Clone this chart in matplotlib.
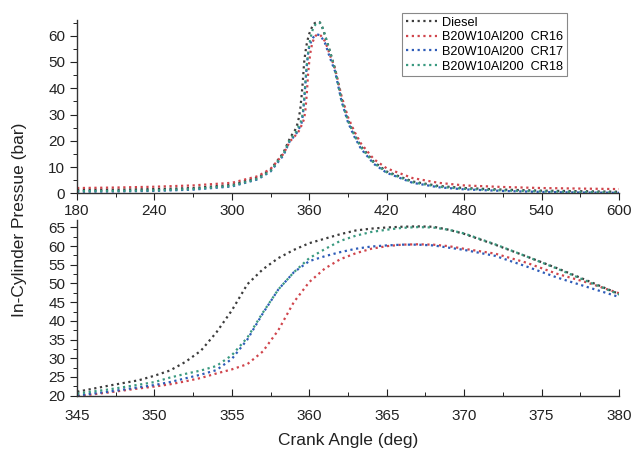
import matplotlib
matplotlib.use("Agg")
import matplotlib.pyplot as plt
from matplotlib.ticker import MultipleLocator

plt.rcParams['font.family'] = ['Liberation Sans', 'DejaVu Sans']

# crank angle grid (deg)
angle = [180, 210, 240, 270, 300, 320, 330, 340, 345, 347, 349, 350, 351, 352, 353, 354,
         355, 356, 357, 358, 359, 360, 361, 362, 363, 364, 365, 366, 367, 368, 369, 370,
         372, 374, 376, 378, 380, 385, 390, 395, 400, 410, 420, 440, 460, 480, 510, 540,
         570, 600]

# in-cylinder pressure (bar)
diesel = [1.3, 1.4, 1.6, 2.0, 3.2, 6.0, 9.0, 15.5, 21.0, 22.6, 24.1, 25.3, 26.7, 29.0, 32.0, 36.9,
          42.8, 49.8, 53.8, 56.8, 59.0, 60.8, 62.0, 63.2, 64.2, 64.7, 65.0, 65.2, 65.3, 65.2, 64.4, 63.3,
          60.4, 57.3, 54.1, 50.7, 47.2, 36.0, 28.0, 22.5, 18.0, 12.0, 8.3, 4.5, 2.8, 2.0, 1.4, 1.0,
          0.8, 0.6]
cr16 = [2.0, 2.2, 2.5, 3.0, 4.0, 6.5, 9.3, 15.0, 19.8, 20.8, 21.9, 22.4, 23.0, 23.8, 24.7, 25.9,
        27.0, 28.4, 31.8, 37.5, 45.0, 50.4, 54.0, 56.5, 58.1, 59.3, 60.0, 60.4, 60.5, 60.4, 60.0, 59.3,
        58.0, 55.6, 52.6, 50.2, 47.4, 37.0, 29.0, 23.5, 19.0, 13.0, 9.5, 5.8, 4.0, 3.0, 2.4, 2.0,
        1.8, 1.6]
cr17 = [0.6, 0.7, 0.9, 1.4, 2.6, 5.3, 8.3, 14.5, 20.0, 21.0, 22.2, 22.8, 23.6, 24.6, 25.6, 26.8,
        29.8, 35.0, 42.0, 48.4, 53.0, 56.0, 57.3, 58.4, 59.3, 59.9, 60.2, 60.4, 60.4, 60.2, 59.6, 59.0,
        57.4, 54.6, 51.6, 49.0, 46.4, 35.0, 27.0, 21.5, 17.0, 11.2, 7.8, 4.0, 2.3, 1.5, 0.9, 0.5,
        0.3, 0.2]
cr18 = [0.8, 0.9, 1.1, 1.6, 2.8, 5.5, 8.5, 15.0, 20.5, 21.6, 22.9, 23.6, 24.8, 25.8, 26.7, 27.9,
        30.8, 35.5, 42.2, 48.4, 53.0, 56.8, 59.2, 61.4, 62.8, 63.8, 64.4, 64.9, 65.1, 65.0, 64.4, 63.4,
        60.5, 57.3, 54.0, 50.5, 47.1, 35.5, 27.5, 22.0, 17.5, 11.5, 8.0, 4.2, 2.5, 1.7, 1.1, 0.7,
        0.5, 0.3]

labels = ['Diesel', 'B20W10Al200  CR16', 'B20W10Al200  CR17', 'B20W10Al200  CR18']
colors = ['#3c3c3c', '#d0454c', '#2e5cb8', '#3a9a80']
series = [diesel, cr16, cr17, cr18]

fig = plt.figure(figsize=(6.34, 4.53), dpi=100)
ax1 = fig.add_axes([0.1215, 0.5733, 0.8548, 0.3826])
ax2 = fig.add_axes([0.1215, 0.1269, 0.8548, 0.3874])

dash = (0, (1, 1.6))
for ax in (ax1, ax2):
    for s, c, lab in zip(series, colors, labels):
        ax.plot(angle, s, color=c, linestyle=dash, linewidth=1.6, label=lab)
    for sp in ('top', 'right'):
        ax.spines[sp].set_visible(False)
    for sp in ('left', 'bottom'):
        ax.spines[sp].set_color('#333333')
        ax.spines[sp].set_linewidth(1.0)
    ax.tick_params(labelsize=11, colors='#222222')

# top panel: full cycle
ax1.set_xlim(180, 600)
ax1.set_ylim(0, 66)
ax1.xaxis.set_major_locator(MultipleLocator(60))
ax1.xaxis.set_minor_locator(MultipleLocator(30))
ax1.yaxis.set_major_locator(MultipleLocator(10))
ax1.yaxis.set_minor_locator(MultipleLocator(5))
ax1.tick_params(axis='x', which='both', direction='out')
ax1.tick_params(axis='x', which='major', length=5, pad=3)
ax1.tick_params(axis='x', which='minor', length=3)
ax1.tick_params(axis='y', which='major', length=5)
ax1.tick_params(axis='y', which='minor', length=3)

# bottom panel: zoom on combustion
ax2.set_xlim(345, 380)
ax2.set_ylim(20, 67)
ax2.xaxis.set_major_locator(MultipleLocator(5))
ax2.xaxis.set_minor_locator(MultipleLocator(2.5))
ax2.yaxis.set_major_locator(MultipleLocator(5))
ax2.yaxis.set_minor_locator(MultipleLocator(2.5))
ax2.tick_params(axis='x', which='both', direction='in')
ax2.tick_params(axis='x', which='major', length=5, pad=10)
ax2.tick_params(axis='x', which='minor', length=3)
ax2.tick_params(axis='y', which='major', length=5)
ax2.tick_params(axis='y', which='minor', length=3)

leg = ax1.legend(loc='upper left', bbox_to_anchor=(402 / 634, 1 - 13 / 453),
                 bbox_transform=fig.transFigure, fontsize=9.2, handlelength=2.4,
                 handletextpad=0.4, labelspacing=0.2, borderpad=0.3,
                 fancybox=False, framealpha=1, borderaxespad=0)
leg.get_frame().set_edgecolor('#888888')
leg.get_frame().set_linewidth(0.8)

fig.text(0.03, 0.515, 'In-Cylinder Pressue (bar)', rotation=90, ha='center', va='center',
         fontsize=12.5, color='#222222')
fig.text(0.549, 0.028, 'Crank Angle (deg)', ha='center', va='center',
         fontsize=12.5, color='#222222')

fig.savefig('out.png', dpi=100)
